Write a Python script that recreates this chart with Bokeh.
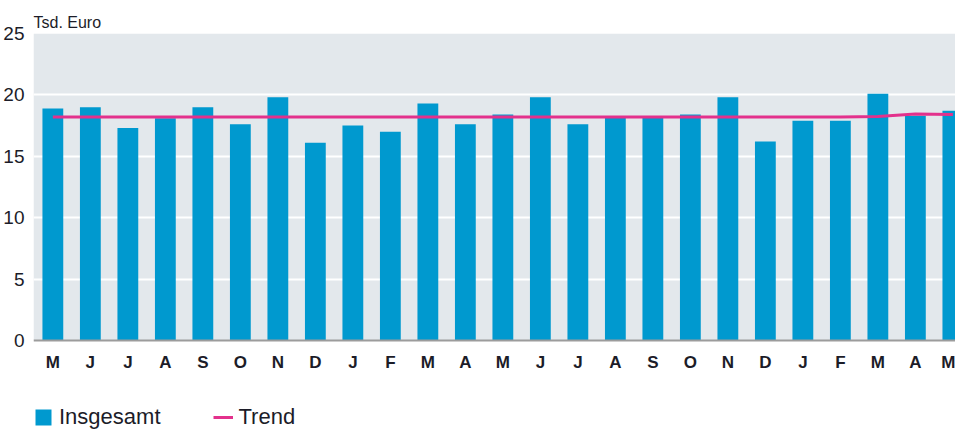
from bokeh.plotting import figure
from bokeh.models import (ColumnDataSource, Legend, LegendItem, FixedTicker)
from bokeh.embed import file_html
from bokeh.resources import INLINE

# ---- data ----
months = ["M", "J", "J", "A", "S", "O", "N", "D", "J", "F", "M", "A",
          "M", "J", "J", "A", "S", "O", "N", "D", "J", "F", "M", "A", "M"]
insgesamt = [18.9, 19.0, 17.3, 18.1, 19.0, 17.6, 19.8, 16.1, 17.5, 17.0,
             19.3, 17.6, 18.4, 19.8, 17.6, 18.2, 18.2, 18.4, 19.8, 16.2,
             17.9, 17.9, 20.1, 18.3, 18.7]
trend = [18.2, 18.2, 18.2, 18.2, 18.2, 18.2, 18.2, 18.2, 18.2, 18.2,
         18.2, 18.2, 18.2, 18.2, 18.2, 18.2, 18.2, 18.2, 18.2, 18.2,
         18.2, 18.2, 18.25, 18.45, 18.4]
y_ticks = [0, 5, 10, 15, 20, 25]
grid_ticks = [5, 10, 15, 20]
y_min, y_max = 0, 25
unit_label = "Tsd. Euro"

xs = list(range(len(months)))
src = ColumnDataSource(dict(x=xs, v=insgesamt, t=trend))

FONT = "Liberation Sans"
TEXT = "#1c1c28"
BAR = "#0099cf"
TREND = "#e3318c"
BG = "#e3e8ec"

x0, x1 = -0.516, 24.07
p = figure(width=955, height=430, x_range=(x0, x1), y_range=(-7.33, y_max),
           output_backend="svg", toolbar_location=None,
           min_border_left=25, min_border_right=0, min_border_top=33,
           min_border_bottom=0)
p.outline_line_color = None
p.background_fill_color = "white"
p.border_fill_color = "white"

# grey plot area from 0 to 25
p.quad(left=[x0], right=[x1], bottom=[y_min], top=[y_max], fill_color=BG,
       line_color=None, level="image")

bars = p.vbar(x="x", top="v", width=0.555, source=src, fill_color=BAR,
              line_color=None)
tl = p.line(x="x", y="t", source=src, line_color=TREND, line_width=3)

# title (unit)
p.title.text = unit_label
p.title.align = "left"
p.title.text_font = FONT
p.title.text_font_size = "16px"
p.title.text_font_style = "normal"
p.title.text_color = TEXT
p.title.standoff = 5
p.title.offset = 0

# axes
p.yaxis.ticker = FixedTicker(ticks=y_ticks)
p.yaxis.axis_line_color = None
p.yaxis.major_tick_line_color = None
p.yaxis.minor_tick_line_color = None
p.yaxis.major_label_standoff = 3
p.yaxis.major_label_text_font = FONT
p.yaxis.major_label_text_font_size = "19px"
p.yaxis.major_label_text_color = TEXT

p.xaxis.fixed_location = 0
p.xaxis.ticker = FixedTicker(ticks=xs)
p.xaxis.major_label_overrides = {i: m for i, m in enumerate(months)}
p.xaxis.axis_line_color = "#9c9c9c"
p.xaxis.axis_line_width = 2
p.xaxis.major_tick_line_color = None
p.xaxis.minor_tick_line_color = None
p.xaxis.major_label_standoff = 7
p.xaxis.major_label_text_font = FONT
p.xaxis.major_label_text_font_style = "bold"
p.xaxis.major_label_text_font_size = "17px"
p.xaxis.major_label_text_color = TEXT

p.xgrid.grid_line_color = None
p.ygrid.ticker = FixedTicker(ticks=grid_ticks)
p.ygrid.grid_line_color = "white"
p.ygrid.grid_line_width = 2

legend = Legend(items=[LegendItem(label="Insgesamt", renderers=[bars]),
                       LegendItem(label="Trend", renderers=[tl])],
                orientation="horizontal", location=(0, 0),
                glyph_width=20, glyph_height=20, label_standoff=6,
                spacing=52, padding=0, margin=0,
                label_text_font=FONT, label_text_font_size="22px",
                label_text_color=TEXT, background_fill_alpha=0,
                border_line_color=None)
p.add_layout(legend, "center")

open("out.html", "w").write(file_html(p, INLINE))
